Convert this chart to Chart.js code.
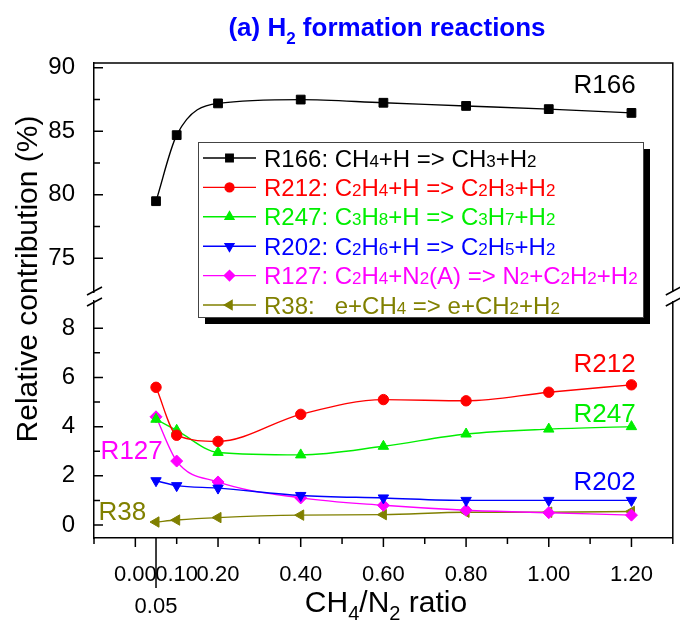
<!DOCTYPE html>
<html lang="en">
<head>
    <meta charset="utf-8" />
    <title>H2 formation reactions</title>
    <script src="https://cdn.jsdelivr.net/npm/chart.js@4.4.1/dist/chart.umd.min.js"></script>
    <style>
        html, body { margin: 0; padding: 0; background: #fff; }
        #wrap { width: 680px; height: 623px; }
    </style>
</head>
<body>
<div id="wrap"><canvas id="h2Chart" width="680" height="623"></canvas></div>
<script>
    // CH4/N2 ratio of each simulation
    const ratio = [0.05, 0.1, 0.2, 0.4, 0.6, 0.8, 1.0, 1.2];

    // relative contribution (%) per reaction
    const r166 = [79.5, 84.7, 87.2, 87.5, 87.25, 87.0, 86.75, 86.45];
    const r212 = [5.6, 3.65, 3.4, 4.5, 5.1, 5.05, 5.4, 5.7];
    const r247 = [4.3, 3.85, 2.95, 2.85, 3.2, 3.7, 3.9, 4.0];
    const r202 = [1.8, 1.6, 1.5, 1.2, 1.1, 1.0, 1.0, 1.0];
    const r127 = [4.4, 2.6, 1.75, 1.1, 0.8, 0.6, 0.5, 0.4];
    const r38 = [0.12, 0.2, 0.3, 0.4, 0.42, 0.52, 0.52, 0.55];

    const legendLabels = [
        'R166: CH4+H => CH3+H2',
        'R212: C2H4+H => C2H3+H2',
        'R247: C3H8+H => C3H7+H2',
        'R202: C2H6+H => C2H5+H2',
        'R127: C2H4+N2(A) => N2+C2H2+H2',
        'R38:   e+CH4 => e+CH2+H2'
    ];
    const colors = ['#000000', '#ff0000', '#00ee00', '#0000ff', '#ff00ff', '#808000'];

    // tick labels
    const xTicks = [0, 0.05, 0.1, 0.2, 0.4, 0.6, 0.8, 1.0, 1.2];
    const xMajor = [0, 0.2, 0.4, 0.6, 0.8, 1.0, 1.2];
    const xMinor = [-0.1, 0.1, 0.3, 0.5, 0.7, 0.9, 1.1, 1.3];
    const upperTicks = [75, 80, 85, 90];
    const upperMinor = [77.5, 82.5, 87.5];
    const lowerTicks = [0, 2, 4, 6, 8];
    const lowerMinor = [1, 3, 5, 7];

    // series names written next to the curves (anchored in data units)
    const curveNotes = [
        { text: 'R166', color: '#000000', x: 1.21, y: 88.0, axis: 'yTop', align: 'right' },
        { text: 'R212', color: '#ff0000', x: 1.21, y: 6.22, axis: 'yBot', align: 'right' },
        { text: 'R247', color: '#00ee00', x: 1.21, y: 4.19, axis: 'yBot', align: 'right' },
        { text: 'R202', color: '#0000ff', x: 1.21, y: 1.42, axis: 'yBot', align: 'right' },
        { text: 'R127', color: '#ff00ff', x: -0.084, y: 2.69, axis: 'yBot', align: 'left' },
        { text: 'R38', color: '#808000', x: -0.089, y: 0.2, axis: 'yBot', align: 'left' }
    ];

    const FONT = '"Liberation Sans", Arial, sans-serif';

    function series(i, values, style, rotation, axis) {
        return {
            label: legendLabels[i],
            data: ratio.map((x, k) => ({ x: x, y: values[k] })),
            yAxisID: axis,
            borderColor: colors[i],
            backgroundColor: colors[i],
            borderWidth: 1.4,
            pointStyle: style,
            pointRotation: rotation,
            pointRadius: style === 'rect' ? 6.2 : (style === 'circle' ? 5.2 : 6),
            pointBorderWidth: 1,
            pointBorderColor: colors[i],
            cubicInterpolationMode: 'monotone',
            fill: false
        };
    }

    // draws text where the given runs are subscripts
    function drawRuns(ctx, runs, x, y, size, subSize, drop, weight) {
        let cx = x;
        runs.forEach(r => {
            ctx.font = (weight || '') + ' ' + (r[1] ? subSize : size) + 'px ' + FONT;
            ctx.fillText(r[0], cx, y + (r[1] ? drop : 0));
            cx += ctx.measureText(r[0]).width;
        });
        return cx - x;
    }

    function runsWidth(ctx, runs, size, subSize, weight) {
        let w = 0;
        runs.forEach(r => {
            ctx.font = (weight || '') + ' ' + (r[1] ? subSize : size) + 'px ' + FONT;
            w += ctx.measureText(r[0]).width;
        });
        return w;
    }

    // digits after the colon of a legend label are subscripts
    function labelRuns(text) {
        const colon = text.indexOf(':');
        const runs = [];
        for (let i = 0; i < text.length; i++) {
            const sub = i > colon && /[0-9]/.test(text[i]);
            if (runs.length && runs[runs.length - 1][1] === sub) {
                runs[runs.length - 1][0] += text[i];
            } else {
                runs.push([text[i], sub]);
            }
        }
        return runs;
    }

    const decorations = {
        id: 'decorations',
        afterDatasetsDraw(chart) {
            const { ctx, chartArea: a, scales } = chart;
            const xs = scales.x, yT = scales.yTop, yB = scales.yBot;
            ctx.save();

            // frame, tick marks and axis breaks
            ctx.strokeStyle = '#000';
            ctx.lineWidth = 1.5;
            ctx.beginPath();
            ctx.moveTo(a.left, a.top);
            ctx.lineTo(a.right, a.top);
            ctx.lineTo(a.right, yT.bottom);
            ctx.moveTo(a.right, yB.top);
            ctx.lineTo(a.right, a.bottom);
            upperTicks.forEach(v => { const p = yT.getPixelForValue(v); ctx.moveTo(a.left, p); ctx.lineTo(a.left + 9, p); });
            upperMinor.forEach(v => { const p = yT.getPixelForValue(v); ctx.moveTo(a.left, p); ctx.lineTo(a.left + 6, p); });
            lowerTicks.forEach(v => { const p = yB.getPixelForValue(v); ctx.moveTo(a.left, p); ctx.lineTo(a.left + 9, p); });
            lowerMinor.forEach(v => { const p = yB.getPixelForValue(v); ctx.moveTo(a.left, p); ctx.lineTo(a.left + 6, p); });
            xMajor.forEach(v => { const p = xs.getPixelForValue(v); ctx.moveTo(p, a.bottom); ctx.lineTo(p, a.bottom + 9); });
            xMinor.forEach(v => { const p = xs.getPixelForValue(v); ctx.moveTo(p, a.bottom); ctx.lineTo(p, a.bottom + 6); });
            const p05 = xs.getPixelForValue(0.05);
            ctx.moveTo(p05, a.bottom);
            ctx.lineTo(p05, a.bottom + 50);
            [a.left, a.right].forEach(px => {
                [yT.bottom - 1, yB.top + 1].forEach(py => {
                    ctx.moveTo(px - 7, py + 4);
                    ctx.lineTo(px + 8, py - 4);
                });
            });
            ctx.stroke();

            // names next to the curves
            ctx.font = '26px ' + FONT;
            ctx.textBaseline = 'alphabetic';
            curveNotes.forEach(n => {
                ctx.fillStyle = n.color;
                ctx.textAlign = n.align;
                ctx.fillText(n.text, xs.getPixelForValue(n.x), scales[n.axis].getPixelForValue(n.y));
            });
            ctx.textAlign = 'left';

            // legend box with drop shadow
            const bx = 198, by = 142, bw = 445, bh = 175;
            ctx.fillStyle = '#000';
            ctx.fillRect(bx + 7, by + 7, bw, bh);
            ctx.fillStyle = '#fff';
            ctx.fillRect(bx, by, bw, bh);
            ctx.lineWidth = 1;
            ctx.strokeStyle = '#444';
            ctx.strokeRect(bx + 0.5, by + 0.5, bw, bh);
            chart.data.datasets.forEach((ds, i) => {
                const ry = by + 16 + i * 29.4;
                ctx.strokeStyle = ds.borderColor;
                ctx.fillStyle = ds.borderColor;
                ctx.lineWidth = 1.4;
                ctx.beginPath();
                ctx.moveTo(bx + 5, ry);
                ctx.lineTo(bx + 58, ry);
                ctx.stroke();
                Chart.helpers.drawPoint(ctx, {
                    pointStyle: ds.pointStyle,
                    rotation: ds.pointRotation,
                    radius: ds.pointRadius * 0.85,
                    borderWidth: 1
                }, bx + 31.5, ry);
                drawRuns(ctx, labelRuns(ds.label), bx + 66, ry + 8.5, 24, 17, 0);
            });

            // title
            const titleRuns = [['(a) H', false], ['2', true], [' formation reactions', false]];
            ctx.fillStyle = '#0000ff';
            const tw = runsWidth(ctx, titleRuns, 26, 17, 'bold');
            drawRuns(ctx, titleRuns, 387 - tw / 2, 36, 26, 17, 8, 'bold');

            // axis titles
            ctx.fillStyle = '#000';
            const xRuns = [['CH', false], ['4', true], ['/N', false], ['2', true], [' ratio', false]];
            const xw = runsWidth(ctx, xRuns, 30, 20, '');
            drawRuns(ctx, xRuns, 386 - xw / 2, 612, 30, 20, 8, '');

            ctx.translate(37, 279);
            ctx.rotate(-Math.PI / 2);
            ctx.font = '30px ' + FONT;
            ctx.textAlign = 'center';
            ctx.fillText('Relative contribution (%)', 0, 0);
            ctx.restore();
        }
    };

    const tickFont = { family: FONT, size: 24 };

    new Chart(document.getElementById('h2Chart').getContext('2d'), {
        type: 'line',
        data: {
            datasets: [
                series(0, r166, 'rect', 0, 'yTop'),
                series(1, r212, 'circle', 0, 'yBot'),
                series(2, r247, 'triangle', 0, 'yBot'),
                series(3, r202, 'triangle', 180, 'yBot'),
                series(4, r127, 'rectRot', 0, 'yBot'),
                series(5, r38, 'triangle', -90, 'yBot')
            ]
        },
        options: {
            responsive: false,
            animation: false,
            layout: { padding: { top: 63, right: 3, left: 0, bottom: 0 } },
            plugins: { legend: { display: false }, title: { display: false }, tooltip: { enabled: false } },
            scales: {
                x: {
                    type: 'linear',
                    position: 'bottom',
                    min: -0.1,
                    max: 1.3,
                    afterBuildTicks: s => { s.ticks = xTicks.map(v => ({ value: v })); },
                    afterFit: s => { s.height = 85; },
                    grid: { display: false },
                    border: { color: '#000', width: 1.5 },
                    ticks: {
                        autoSkip: false,
                        maxRotation: 0,
                        padding: 13,
                        color: '#000',
                        font: { family: FONT, size: 22, lineHeight: 1.45 },
                        callback: v => v === 0.05 ? ['', '0.05'] : v.toFixed(2)
                    }
                },
                yTop: {
                    type: 'linear',
                    position: 'left',
                    stack: 'y',
                    stackWeight: 229,
                    weight: 3,
                    min: 72.35,
                    max: 90.38,
                    afterBuildTicks: s => { s.ticks = upperTicks.map(v => ({ value: v })); },
                    afterFit: s => { s.width = 94; },
                    grid: { display: false },
                    border: { color: '#000', width: 1.5 },
                    ticks: { padding: 11, color: '#000', font: tickFont }
                },
                yGap: {
                    type: 'linear',
                    position: 'left',
                    stack: 'y',
                    stackWeight: 9,
                    weight: 2,
                    min: 0,
                    max: 1,
                    display: false
                },
                yBot: {
                    type: 'linear',
                    position: 'left',
                    stack: 'y',
                    stackWeight: 237,
                    weight: 1,
                    min: -0.53,
                    max: 9.11,
                    afterBuildTicks: s => { s.ticks = lowerTicks.map(v => ({ value: v })); },
                    afterFit: s => { s.width = 94; },
                    grid: { display: false },
                    border: { color: '#000', width: 1.5 },
                    ticks: { padding: 11, color: '#000', font: tickFont }
                }
            }
        },
        plugins: [decorations]
    });
</script>
</body>
</html>
